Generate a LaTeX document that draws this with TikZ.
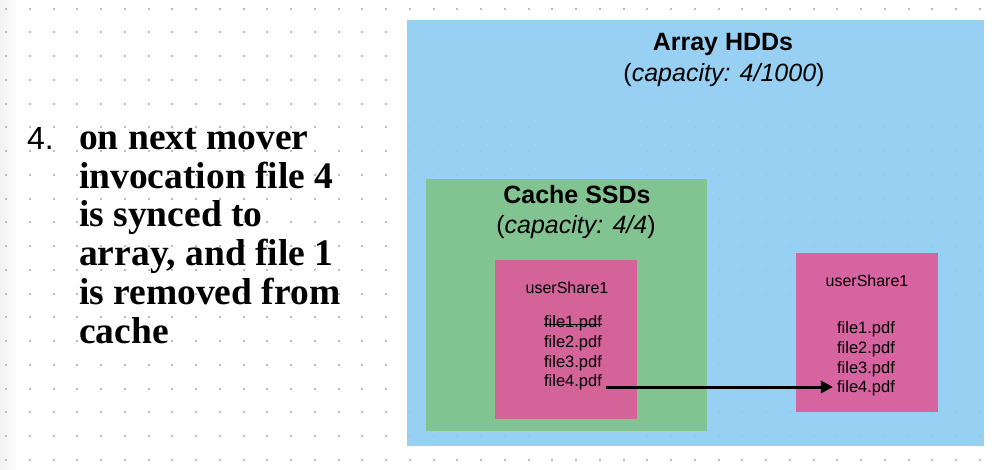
\documentclass[tikz,border=0pt]{standalone}
\usepackage{fontspec}
\setmainfont{Liberation Serif}
\setsansfont{Liberation Sans}
\usetikzlibrary{arrows.meta}
\definecolor{hddblue}{RGB}{144,205,242}
\definecolor{ssdgreen}{RGB}{128,196,138}
\definecolor{sharepink}{RGB}{219,92,155}
\definecolor{dotgray}{RGB}{190,190,190}
\tikzset{
  box/.style={draw=none, anchor=north west, inner sep=0pt, fill opacity=0.93},
  titletext/.style={font=\sffamily\bfseries\fontsize{25}{30}\selectfont, inner sep=0pt},
  captext/.style={font=\sffamily\fontsize{25}{30}\selectfont, inner sep=0pt},
  sharetext/.style={font=\sffamily\fontsize{16}{19}\selectfont, inner sep=0pt},
  fileline/.style={font=\sffamily\fontsize{16.5}{19.7}\selectfont, inner sep=4pt},
  stepline/.style={font=\rmfamily\bfseries\fontsize{37.5}{38.6}\selectfont, anchor=base west, inner sep=0pt},
  mover/.style={line width=3pt, -{Triangle[length=12pt,width=12pt]}},
  strike/.style={line width=0.9pt}
}
\begin{document}
\begin{tikzpicture}[x=1pt,y=-1pt]
\useasboundingbox (0,0) rectangle (1000,470);
\fill[white] (0,0) rectangle (1000,470);
\shade[left color=black!5, right color=white] (0,0) rectangle (18,470);
% dot grid
\foreach \i in {0,...,41}{
  \foreach \j in {0,...,19}{
    \fill[dotgray] (6+23.75*\i-1, 8.7+23.75*\j-1) rectangle ++(2,2);
  }
}
% boxes
\node[box, fill=hddblue, minimum width=577pt, minimum height=426pt] (array) at (407,20) {};
\node[box, fill=ssdgreen, minimum width=281pt, minimum height=252pt] (cache) at (426,179) {};
\node[box, fill=sharepink, minimum width=142pt, minimum height=159pt] (lshare) at (495,260) {};
\node[box, fill=sharepink, minimum width=142pt, minimum height=159pt] (rshare) at (796,253) {};
% titles
\node[titletext] (arrayt) at (723,44) {Array HDDs};
\node[captext] (arrayc) at (724,75) {(\textit{capacity: 4/1000})};
\node[titletext] (cachet) at (577,195) {Cache SSDs};
\node[captext] (cachec) at (576,227) {(\textit{capacity: 4/4})};
% left share
\node[sharetext] (lsh) at (567,288) {userShare1};
\node[fileline] (lf1) at (573,323) {file1.pdf};
\draw[strike] ([xshift=4pt,yshift=-1pt]lf1.west) -- ([xshift=-4pt,yshift=-1pt]lf1.east);
\node[fileline] (lf2) at (573,343) {file2.pdf};
\node[fileline] (lf3) at (573,363) {file3.pdf};
\node[fileline] (lf4) at (573,382) {file4.pdf};
% right share
\node[sharetext] (rsh) at (867,281) {userShare1};
\node[fileline] (rf1) at (866,329) {file1.pdf};
\node[fileline] (rf2) at (866,349) {file2.pdf};
\node[fileline] (rf3) at (866,369) {file3.pdf};
\node[fileline] (rf4) at (866,388) {file4.pdf};
% arrow
\draw[mover] ([yshift=-5pt]lf4.east) -- ([yshift=1pt]rf4.west);
% left text
\node[font=\sffamily\fontsize{32}{34}\selectfont, anchor=base west, inner sep=0pt] (num) at (27,150) {4.};
\node[stepline] (s1) at (79,150) {on next mover};
\node[stepline] (s2) at (79,188.5) {invocation file 4};
\node[stepline] (s3) at (79,227) {is synced to};
\node[stepline] (s4) at (79,265.5) {array, and file 1};
\node[stepline] (s5) at (79,304) {is removed from};
\node[stepline] (s6) at (79,343) {cache};
\end{tikzpicture}
\end{document}
